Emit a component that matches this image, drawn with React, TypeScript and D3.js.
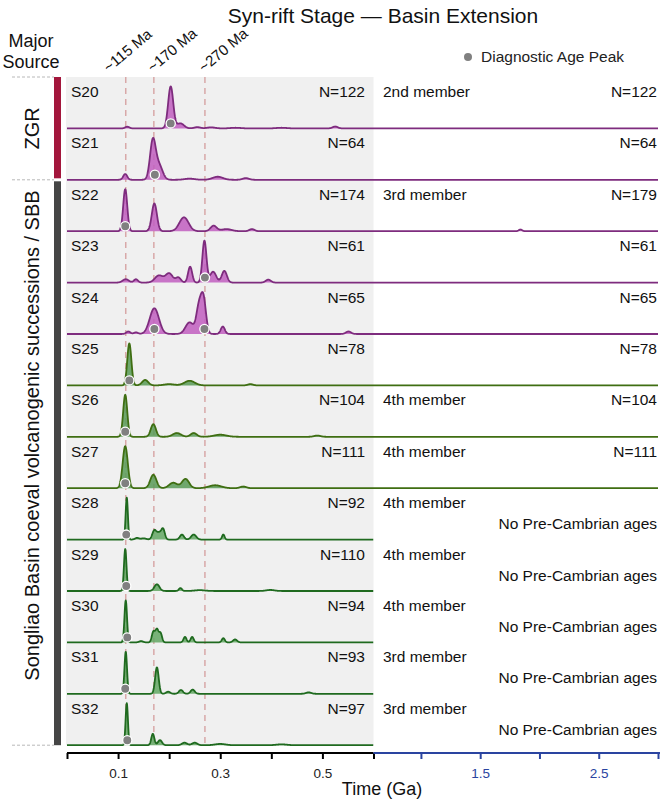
import React from "react";
import * as d3 from "d3";

// ---- data -------------------------------------------------------------
const samples = ["S20", "S21", "S22", "S23", "S24", "S25", "S26", "S27", "S28", "S29", "S30", "S31", "S32"];
const sampleN = [122, 64, 174, 61, 65, 78, 104, 111, 92, 110, 94, 93, 97];
const totalN: (number | null)[] = [122, 64, 179, 61, 65, 78, 104, 111, null, null, null, null, null];
const members = ["2nd member", "", "3rd member", "", "", "", "4th member", "4th member", "4th member", "4th member", "4th member", "3rd member", "3rd member"];
const curveGroup = ["zgr", "zgr", "zgr", "zgr", "zgr", "sbb", "sbb", "sbb", "sbbYoung", "sbbYoung", "sbbYoung", "sbbYoung", "sbbYoung"];

const sourceNames = ["ZGR", "Songliao Basin coeval volcanogenic successions / SBB"];
const sourceFirst = [0, 2];
const sourceLast = [1, 12];

// age modes per sample: [age (Ma), relative weight, spread (Ma)]
const ageModes: [number, number, number][][] = [
  [[203, 1.0, 5], [222, 0.12, 7], [118, 0.04, 4], [255, 0.03, 6], [282, 0.025, 8], [330, 0.015, 10], [420, 0.015, 10], [525, 0.045, 5]],
  [[168, 1.0, 5.5], [180, 0.38, 7], [114, 0.15, 4], [295, 0.08, 10], [350, 0.045, 6], [240, 0.03, 10]],
  [[114, 1.0, 4], [171, 0.66, 5], [229, 0.33, 9], [287, 0.13, 6], [312, 0.05, 10], [362, 0.05, 5], [1840, 0.04, 14]],
  [[269, 1.0, 4], [241, 0.38, 4], [286, 0.26, 6], [308, 0.28, 5], [115, 0.08, 6], [135, 0.08, 4], [180, 0.17, 8], [200, 0.22, 7], [218, 0.12, 5], [394, 0.07, 5]],
  [[171, 0.62, 9], [267, 0.85, 5], [258, 0.6, 5], [240, 0.28, 8], [305, 0.18, 4], [120, 0.06, 4], [135, 0.04, 4], [551, 0.06, 5]],
  [[122, 1.0, 4], [153, 0.13, 6], [240, 0.11, 10], [200, 0.03, 10], [359, 0.03, 5]],
  [[114, 1.0, 4], [169, 0.3, 5], [215, 0.09, 8], [248, 0.09, 6], [300, 0.05, 12], [490, 0.03, 6]],
  [[114, 1.0, 5], [169, 0.32, 6], [208, 0.13, 8], [232, 0.22, 7], [290, 0.07, 12], [345, 0.04, 6]],
  [[117, 1.0, 2.2], [137, 0.04, 4], [171, 0.22, 4], [188, 0.25, 3.5], [180, 0.15, 4], [225, 0.12, 4], [248, 0.12, 5], [306, 0.12, 2.5], [150, 0.03, 5]],
  [[114, 1.0, 2.5], [176, 0.16, 5], [222, 0.07, 3], [260, 0.02, 10], [398, 0.025, 8]],
  [[115, 1.0, 2.5], [169, 0.25, 3], [176, 0.3, 3], [183, 0.22, 3], [231, 0.13, 3], [245, 0.13, 3], [306, 0.1, 3], [329, 0.07, 4], [145, 0.03, 4]],
  [[115, 1.0, 2.5], [176, 0.63, 3.5], [198, 0.05, 4], [223, 0.09, 4], [246, 0.1, 4], [473, 0.035, 5]],
  [[117, 1.0, 2.3], [168, 0.27, 3], [182, 0.12, 4], [230, 0.06, 5], [250, 0.06, 5], [300, 0.03, 10], [420, 0.02, 10]],
];

// diagnostic age peaks (Ma)
const diagnosticPeaks: number[][] = [[203], [172], [114], [270], [171, 269], [122], [114], [114], [116], [116], [118], [114], [118]];

const referenceAges = [115, 170, 270];
const referenceLabels = ["~115 Ma", "~170 Ma", "~270 Ma"];

const phanerozoicTicks = [0, 0.1, 0.2, 0.3, 0.4, 0.5, 0.6];
const phanerozoicLabelled = [0.1, 0.3, 0.5];
const precambrianTicks = [1.0, 1.5, 2.0, 2.5, 3.0];
const precambrianLabelled = [1.5, 2.5];

// ---- layout / style ---------------------------------------------------
const W = 664;
const H = 802;
const FONT = "'Liberation Sans', Arial, Helvetica, sans-serif";
const plotTop = 77;
const rowH = 51.4;
const peakH = 42;
const xLeft = 67;
const xBreak = 373.5;
const xRight = 658;
const axisY = 753;
const labelSize = 15.5;

const groupStyle: Record<string, { fill: string; stroke: string }> = {
  zgr: { fill: "#c262c0", stroke: "#7e2c7e" },
  sbb: { fill: "#5c9c5a", stroke: "#3f6e12" },
  sbbYoung: { fill: "#66a866", stroke: "#1f6a1f" },
};
const sourceColor = ["#a3163c", "#454545"];
const sourceLabelShift = [0, -27];
const refLabelDx = [-17, -1, -1];

const x = d3.scaleLinear().domain([0, 0.6, 3.0]).range([xLeft, xBreak, xRight]);

const youngGrid = d3.range(0, 600, 0.5);
const fullGrid = youngGrid.concat(d3.range(600, 3001, 3));

function density(modes: [number, number, number][], age: number) {
  let s = 0;
  for (const [mu, w, sd] of modes) s += w * Math.exp(-0.5 * ((age - mu) / sd) ** 2);
  return s;
}

function TimeAxis() {
  const ref = React.useRef<SVGGElement>(null);
  React.useEffect(() => {
    const g = d3.select(ref.current);
    g.selectAll("*").remove();
    const left = g.append("g").call(
      d3.axisBottom(x).tickValues(phanerozoicTicks).tickSize(6).tickSizeOuter(0)
        .tickFormat((d: any) => (phanerozoicLabelled.some((v) => Math.abs(v - d) < 1e-9) ? d3.format(".1f")(d) : ""))
    );
    left.select(".domain").attr("d", `M${xLeft},0H${xBreak}`).attr("stroke", "#000").attr("stroke-width", 2);
    left.selectAll(".tick line").attr("stroke", "#000").attr("stroke-width", 2);
    left.selectAll(".tick text").attr("fill", "#222").attr("font-size", 13.5).attr("font-family", FONT).attr("dy", "1.15em");

    const right = g.append("g").call(
      d3.axisBottom(x).tickValues(precambrianTicks).tickSize(6).tickSizeOuter(0)
        .tickFormat((d: any) => (precambrianLabelled.some((v) => Math.abs(v - d) < 1e-9) ? d3.format(".1f")(d) : ""))
    );
    right.select(".domain").attr("d", `M${xBreak},0H${xRight + 2}`).attr("stroke", "#2a44a0").attr("stroke-width", 2);
    right.selectAll(".tick line").attr("stroke", "#2a44a0").attr("stroke-width", 2);
    right.selectAll(".tick text").attr("fill", "#2a44a0").attr("font-size", 13.5).attr("font-family", FONT).attr("dy", "1.15em");
  }, []);
  return <g ref={ref} transform={`translate(0,${axisY})`} />;
}

export default function App() {
  const rows = samples.map((name, i) => {
    const top = plotTop + i * rowH;
    const base = top + rowH;
    const grid = totalN[i] == null ? youngGrid : fullGrid;
    const pts = grid.map((a) => ({ a, d: density(ageModes[i], a) }));
    const maxD = d3.max(pts, (p) => p.d) as number;
    const y = d3.scaleLinear().domain([0, maxD]).range([base, base - peakH]);
    const area = d3.area<{ a: number; d: number }>()
      .x((p) => x(p.a / 1000)).y0(base).y1((p) => y(p.d));
    const line = d3.line<{ a: number; d: number }>()
      .x((p) => x(p.a / 1000)).y((p) => y(p.d));
    return { name, i, top, base, area: area(pts), line: line(pts) };
  });

  const plotBottom = plotTop + samples.length * rowH;

  return (
    <svg width={W} height={H} style={{ display: "block", position: "absolute", left: 0, top: 0 }} fontFamily={FONT}>
      <rect x={0} y={0} width={W} height={H} fill="#fff" />
      {/* title */}
      <text x={383} y={23} textAnchor="middle" fontSize={21} fill="#111">Syn-rift Stage — Basin Extension</text>

      {/* source column header */}
      <text x={31} y={47} textAnchor="middle" fontSize={18} fill="#111">Major</text>
      <text x={31} y={68} textAnchor="middle" fontSize={18} fill="#111">Source</text>

      {/* legend */}
      <circle cx={468} cy={57} r={4} fill="#808080" />
      <text x={481} y={62} fontSize={labelSize} fill="#222">Diagnostic Age Peak</text>

      {/* Phanerozoic panel background */}
      <rect x={xLeft - 1} y={plotTop} width={xBreak - xLeft + 1} height={plotBottom - plotTop} fill="#f0f0f0" />

      {/* reference age lines */}
      {referenceAges.map((a, k) => (
        <g key={a}>
          <line x1={x(a / 1000)} x2={x(a / 1000)} y1={plotTop} y2={plotBottom} stroke="#d8a8a8" strokeWidth={1.5} strokeDasharray="6,5" />
          <text transform={`translate(${x(a / 1000) + refLabelDx[k]},73) rotate(-40)`} fontSize={15} fill="#111">{referenceLabels[k]}</text>
        </g>
      ))}

      {/* source bars */}
      {sourceNames.map((s, k) => {
        const y0 = plotTop + sourceFirst[k] * rowH;
        const y1 = plotTop + (sourceLast[k] + 1) * rowH;
        return (
          <g key={s}>
            <rect x={54} y={y0 + (k === 0 ? 0 : 1.5)} width={7} height={y1 - y0 - 1.5} fill={sourceColor[k]} />
            <text transform={`translate(39,${(y0 + y1) / 2 + sourceLabelShift[k]}) rotate(-90)`} textAnchor="middle" fontSize={20} fill="#111">{s}</text>
          </g>
        );
      })}
      {[plotTop, plotTop + 2 * rowH, plotBottom].map((yy, k) => (
        <line key={k} x1={12} x2={54} y1={yy} y2={yy} stroke="#b8b8b8" strokeWidth={1} strokeDasharray="3,2" />
      ))}

      {/* density curves */}
      {rows.map((r) => {
        const st = groupStyle[curveGroup[r.i]];
        return (
          <g key={r.name}>
            <path d={r.area as string} fill={st.fill} fillOpacity={0.88} />
            <path d={r.line as string} fill="none" stroke={st.stroke} strokeWidth={1.8} strokeLinejoin="round" />
            {diagnosticPeaks[r.i].map((a) => (
              <circle key={a} cx={x(a / 1000)} cy={r.base - 5} r={4.6} fill="#808080" stroke="#fff" strokeWidth={1.3} />
            ))}
            <text x={71} y={r.top + 20} fontSize={labelSize} fill="#111">{r.name}</text>
            <text x={365} y={r.top + 20} textAnchor="end" fontSize={labelSize} fill="#111">N={sampleN[r.i]}</text>
            {members[r.i] && <text x={383} y={r.top + 20} fontSize={labelSize} fill="#111">{members[r.i]}</text>}
            {totalN[r.i] != null ? (
              <text x={657} y={r.top + 20} textAnchor="end" fontSize={labelSize} fill="#111">N={totalN[r.i]}</text>
            ) : (
              <text x={657} y={r.top + 41} textAnchor="end" fontSize={labelSize} fill="#111">No Pre-Cambrian ages</text>
            )}
          </g>
        );
      })}

      <TimeAxis />
      <text x={382} y={795} textAnchor="middle" fontSize={18} fill="#111">Time (Ga)</text>
    </svg>
  );
}
